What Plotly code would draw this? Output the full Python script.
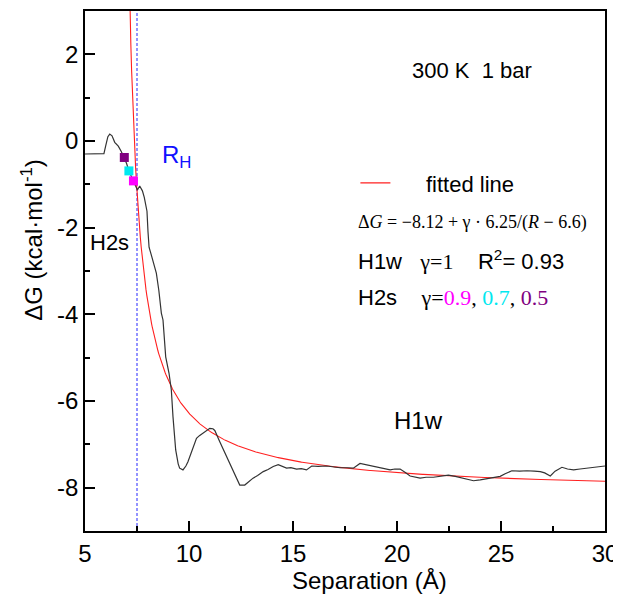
import numpy as np
import plotly.graph_objects as go

# black PMF curve (separation in Å, ΔG in kcal/mol)
sep = [5.0, 5.5, 5.91, 6.0, 6.1, 6.19, 6.3, 6.43, 6.6, 6.75, 6.89, 7.0, 7.11, 7.22, 7.33,
       7.44, 7.52, 7.63, 7.76, 7.85, 7.92, 7.98, 8.03, 8.08, 8.2, 8.3, 8.43, 8.55, 8.67,
       8.75, 8.88, 9.04, 9.15, 9.23, 9.36, 9.48, 9.55, 9.71, 9.85, 9.95, 10.2, 10.36, 10.5,
       10.68, 10.85, 11.0, 11.15, 11.24, 11.48, 11.8, 12.12, 12.44, 12.68, 12.9, 13.08,
       13.3, 13.57, 13.8, 14.05, 14.29, 14.5, 14.69, 14.9, 15.17, 15.4, 15.65, 15.9, 16.2,
       16.62, 16.79, 17.26, 17.6, 17.9, 18.22, 18.5, 18.86, 19.2, 19.67, 19.9, 20.15, 20.4,
       20.63, 21.11, 21.4, 21.75, 22.1, 22.47, 22.8, 23.04, 23.4, 23.68, 24.0, 24.32, 24.6,
       24.96, 25.2, 25.52, 25.9, 26.25, 26.6, 26.89, 27.1, 27.37, 27.6, 27.93, 28.2, 28.49,
       28.8, 29.14, 29.5, 29.78, 30.0]
dG = [-0.30, -0.30, -0.29, -0.10, 0.10, 0.16, 0.12, -0.03, -0.12, -0.25, -0.38, -0.52, -0.69,
      -0.80, -0.92, -1.05, -1.13, -1.04, -1.15, -1.30, -1.44, -1.62, -2.10, -2.45, -2.65,
      -2.80, -3.05, -3.45, -3.97, -4.13, -4.98, -5.36, -5.74, -6.36, -7.13, -7.45, -7.55,
      -7.59, -7.50, -7.40, -7.05, -6.86, -6.80, -6.74, -6.68, -6.63, -6.64, -6.68, -6.94,
      -7.28, -7.63, -7.94, -7.94, -7.85, -7.78, -7.72, -7.63, -7.58, -7.51, -7.47, -7.52,
      -7.55, -7.54, -7.57, -7.56, -7.59, -7.50, -7.51, -7.50, -7.51, -7.54, -7.54, -7.55,
      -7.44, -7.47, -7.50, -7.53, -7.59, -7.57, -7.57, -7.65, -7.73, -7.78, -7.76, -7.76,
      -7.74, -7.71, -7.74, -7.77, -7.82, -7.84, -7.82, -7.79, -7.77, -7.74, -7.68, -7.61,
      -7.62, -7.61, -7.62, -7.63, -7.66, -7.73, -7.62, -7.53, -7.57, -7.59, -7.57, -7.55,
      -7.53, -7.51, -7.50]

# fitted model  dG = a + gamma * b / (R - c)
fit_a, fit_b, fit_c = -8.12, 6.25, 6.6

# H2s points for gamma = 0.9, 0.7, 0.5
h2s_sep = [7.33, 7.11, 6.89]
h2s_dG = [-0.92, -0.69, -0.38]
h2s_colors = ["#ff00ff", "#00e8f0", "#800080"]

R_H = 7.5

x_ticks = [5, 10, 15, 20, 25, 30]
y_ticks = [2, 0, -2, -4, -6, -8]
y_ticktext = ["2", "0", "-2", "-4", "-6", "-8"]

SANS = "Liberation Sans, Arial, sans-serif"
SERIF = "Liberation Serif, Times New Roman, serif"
NB = "\u00a0"

fig = go.Figure()

r_fit = np.linspace(7.05, 30, 600)
fig.add_trace(go.Scatter(
    x=r_fit, y=fit_a + fit_b / (r_fit - fit_c), mode="lines",
    name=NB * 5 + "fitted line", line=dict(color="#ff2020", width=1.1),
))
fig.add_trace(go.Scatter(
    x=sep, y=dG, mode="lines", line=dict(color="#333333", width=1.2), showlegend=False,
))
fig.add_trace(go.Scatter(
    x=h2s_sep, y=h2s_dG, mode="markers", showlegend=False,
    marker=dict(symbol="square", size=9, color=h2s_colors, line=dict(width=0)),
))

fig.add_vline(x=R_H, line=dict(color="#7070ff", width=1.5, dash="3px,2px"), layer="below")

ann_font = dict(family=SANS, size=22, color="black")
title_font = dict(family=SANS, size=24, color="black")

# axis titles (placed as in the original, slightly off-centre)
fig.add_annotation(xref="paper", yref="paper", x=0.548, y=-0.096,
                   xanchor="center", yanchor="middle",
                   text="Separation (\u00c5)", showarrow=False, font=title_font)
fig.add_annotation(xref="paper", yref="paper", x=-0.102, y=0.56, textangle=-90,
                   xanchor="center", yanchor="middle",
                   text="\u0394G (kcal\u00b7mol<sup>-1</sup>)", showarrow=False,
                   font=title_font)

fig.add_annotation(x=23.6, y=1.62, text="300 K  1 bar", showarrow=False, font=ann_font)
fig.add_annotation(x=8.6, y=-0.35, text="R<sub>H</sub>", showarrow=False, xanchor="left",
                   font=dict(family=SANS, size=24, color="#1010ff"))
fig.add_annotation(x=6.18, y=-2.35, text="H2s", showarrow=False, font=ann_font)
fig.add_annotation(x=21.05, y=-6.45, text="H1w", showarrow=False, font=title_font)

fig.add_annotation(
    x=18.05, y=-1.89, xanchor="left", showarrow=False,
    text="\u0394<i>G</i> = \u22128.12 + \u03b3 \u00b7 6.25/(<i>R</i> \u2212 6.6)",
    font=dict(family=SERIF, size=18, color="black"),
)
serif_span = "<span style='font-family:Liberation Serif'>%s</span>"
fig.add_annotation(
    x=18.05, y=-2.745, xanchor="left", showarrow=False, font=ann_font,
    text="H1w" + NB * 3 + serif_span % "\u03b3=1" + NB * 4 + "R<sup>2</sup>= 0.93",
)
fig.add_annotation(
    x=18.05, y=-3.6, xanchor="left", showarrow=False, font=ann_font,
    text="H2s" + NB * 4 + serif_span % (
        "\u03b3=<span style='color:#ff00ff'>0.9</span>, "
        "<span style='color:#00e8f0'>0.7</span>, "
        "<span style='color:#800080'>0.5</span>"),
)

axis_common = dict(
    showline=True, linecolor="black", linewidth=1.5, mirror=True,
    ticks="inside", ticklen=10, tickwidth=1.5, tickcolor="black",
    showgrid=False, zeroline=False, automargin=False, ticklabeloverflow="allow",
    tickfont=dict(family=SANS, size=24, color="black"),
)
fig.update_xaxes(
    range=[5, 30], tickvals=x_ticks,
    minor=dict(ticks="inside", ticklen=5, tickwidth=1.5, tickcolor="black", dtick=2.5),
    **axis_common,
)
fig.update_yaxes(
    range=[-9, 3], tickvals=y_ticks, ticktext=y_ticktext,
    minor=dict(ticks="inside", ticklen=5, tickwidth=1.5, tickcolor="black", dtick=1),
    **axis_common,
)

# the page body adds an 8px offset, so the figure is sized to end at the window edge
fig.update_layout(
    width=613, height=587,
    margin=dict(l=77, r=16, t=3, b=64),
    plot_bgcolor="white", paper_bgcolor="white",
    legend=dict(x=0.52, y=0.669, xanchor="left", yanchor="middle",
                bgcolor="rgba(0,0,0,0)", font=dict(family=SANS, size=22, color="black")),
)

fig.write_html("out.html")
